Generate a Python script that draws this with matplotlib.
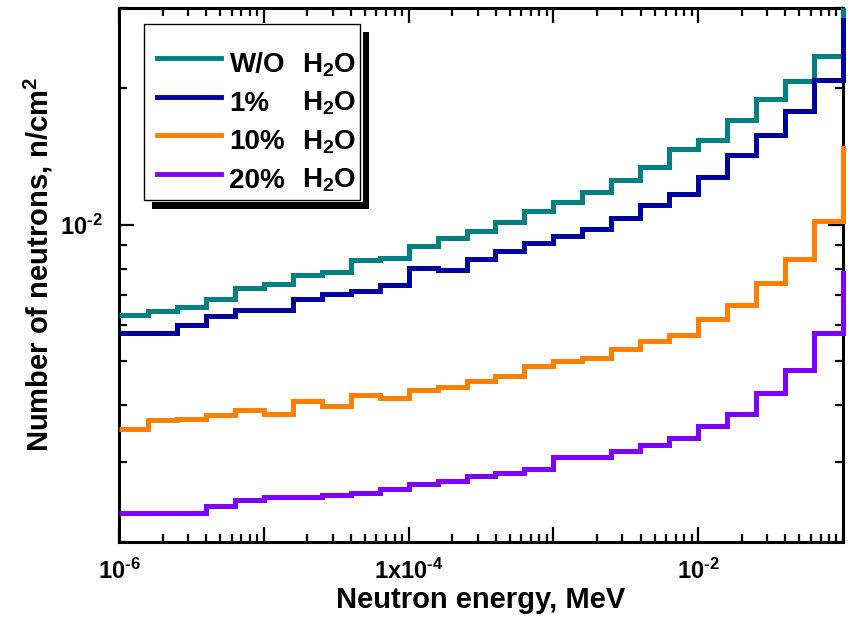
import numpy as np
import matplotlib
matplotlib.use('Agg')
import matplotlib.pyplot as plt
from matplotlib.lines import Line2D
from matplotlib.patches import Rectangle
from matplotlib.transforms import Bbox, TransformedBbox
from matplotlib.ticker import FixedLocator, FixedFormatter, LogLocator, NullFormatter

plt.rcParams['font.family'] = ['Liberation Sans', 'DejaVu Sans']
plt.rcParams['font.weight'] = 'bold'
plt.rcParams['mathtext.fontset'] = 'custom'
plt.rcParams['mathtext.rm'] = 'Liberation Sans:bold'
plt.rcParams['mathtext.bf'] = 'Liberation Sans:bold'
plt.rcParams['mathtext.it'] = 'Liberation Sans:bold'
plt.rcParams['mathtext.sf'] = 'Liberation Sans:bold'
plt.rcParams['mathtext.default'] = 'rm'

# group structure: 5 bins per decade starting at 1e-6 MeV (last bin sits past the axis end)
energy_edges = 10 ** np.linspace(-6, -0.8, 27)

# neutrons per cm^2 in each energy bin
no_water = [0.00631, 0.00644, 0.00659, 0.00687, 0.00725, 0.00741, 0.00776, 0.00785,
            0.00834, 0.00845, 0.00896, 0.00935, 0.00967, 0.01012, 0.01074, 0.01121,
            0.01182, 0.01253, 0.01342, 0.01470, 0.01539, 0.01697, 0.01895, 0.02076,
            0.02356, 0.03500]
water_1 = [0.00577, 0.00577, 0.00602, 0.00630, 0.00650, 0.00648, 0.00686, 0.00704,
           0.00716, 0.00738, 0.00803, 0.00796, 0.00842, 0.00873, 0.00911, 0.00946,
           0.00978, 0.01035, 0.01107, 0.01170, 0.01271, 0.01421, 0.01579, 0.01783,
           0.02086, 0.02829]
water_10 = [0.00355, 0.00372, 0.00374, 0.00380, 0.00391, 0.00383, 0.00408, 0.00399,
            0.00421, 0.00416, 0.00432, 0.00440, 0.00452, 0.00465, 0.00488, 0.00500,
            0.00509, 0.00531, 0.00555, 0.00570, 0.00620, 0.00664, 0.00744, 0.00842,
            0.01017, 0.01478]
water_20 = [0.00232, 0.00232, 0.00232, 0.00240, 0.00247, 0.00251, 0.00251, 0.00254,
            0.00256, 0.00262, 0.00269, 0.00273, 0.00279, 0.00284, 0.00289, 0.00308,
            0.00308, 0.00318, 0.00327, 0.00339, 0.00361, 0.00382, 0.00426, 0.00479,
            0.00577, 0.00783]

series = [no_water, water_1, water_10, water_20]
series_names = ['W/O', '1%', '10%', '20%']
series_colors = ['#008080', '#0000A0', '#FF8000', '#8000FF']

HY = '\u2010'  # short hyphen in the exponents, like the original
x_major = [1e-6, 1e-5, 1e-4, 1e-3, 1e-2, 1e-1]
x_major_labels = [r'$10^{%s6}$' % HY, '', r'1x10$^{%s4}$' % HY, '', r'$10^{%s2}$' % HY, '']
y_major = [1e-2]
y_major_labels = [r'$10^{%s2}$' % HY]

W, H = 854, 619


def px(x, y):
    # pixel position (from top-left) -> figure fraction
    return x / W, 1 - y / H


def draw_legend(fig):
    # Origin-style legend: thin frame with a thick black drop shadow
    x0, y0, x1, y1 = 144, 24, 360, 200
    fig.patches.append(Rectangle(px(152, 209), 216.5 / W, 7 / H, transform=fig.transFigure,
                                 color='black', lw=0))
    fig.patches.append(Rectangle(px(362.5, 209), 6.5 / W, 177 / H, transform=fig.transFigure,
                                 color='black', lw=0))
    fig.patches.append(Rectangle(px(x0, y1), (x1 - x0) / W, (y1 - y0) / H, transform=fig.transFigure,
                                 facecolor='white', edgecolor='black', lw=1.0))
    rows = [58.3, 96.7, 135.0, 174.0]
    for name, color, ry in zip(series_names, series_colors, rows):
        xa, ya = px(157, ry)
        xb, _ = px(221, ry)
        fig.lines.append(Line2D([xa, xb], [ya, ya], transform=fig.transFigure, color=color, lw=3.5))
        fig.text(*px(229.5, ry + 14), name, fontsize=20, fontweight='bold', va='baseline')
        fig.text(*px(302.5, ry + 14), r'H$_2$O', fontsize=20, fontweight='bold', va='baseline')


fig = plt.figure(figsize=(W / 100, H / 100), dpi=100)
l, b = px(119, 542)
ax = fig.add_axes([l, b, (843 - 119) / W, (542 - 8) / H])

# let the step at the right edge show over the spine
clip = TransformedBbox(Bbox([[0, 0], [1.0035, 1]]), ax.transAxes)
for vals, color in zip(series, series_colors):
    st = ax.stairs(vals, energy_edges, color=color, lw=3.6, baseline=None, joinstyle='miter', zorder=3)
    st.set_clip_box(clip)

ax.set_xscale('log')
ax.set_yscale('log')
ax.set_xlim(1e-6, 1e-1)
ax.set_ylim(2e-3, 3e-2)

ax.xaxis.set_major_locator(FixedLocator(x_major))
ax.xaxis.set_major_formatter(FixedFormatter(x_major_labels))
ax.xaxis.set_minor_locator(LogLocator(base=10, subs=np.arange(2, 10), numticks=30))
ax.xaxis.set_minor_formatter(NullFormatter())
ax.yaxis.set_major_locator(FixedLocator(y_major))
ax.yaxis.set_major_formatter(FixedFormatter(y_major_labels))
ax.yaxis.set_minor_locator(LogLocator(base=10, subs=np.arange(2, 10), numticks=30))
ax.yaxis.set_minor_formatter(NullFormatter())

ax.tick_params(which='both', direction='in', top=True, right=True, width=1.6, labelsize=17)
ax.tick_params(which='major', length=10.5, pad=12)
ax.tick_params(which='minor', length=5.5)
for sp in ax.spines.values():
    sp.set_linewidth(2.2)

ax.set_xlabel('Neutron energy, MeV', fontsize=21, fontweight='bold')
ax.set_ylabel('Number of neutrons, n/cm$^2$', fontsize=21, fontweight='bold')
ax.xaxis.set_label_coords(0.5, -0.083)
ax.yaxis.set_label_coords(-0.088, 0.52)

draw_legend(fig)

fig.savefig('out.png', dpi=100)
